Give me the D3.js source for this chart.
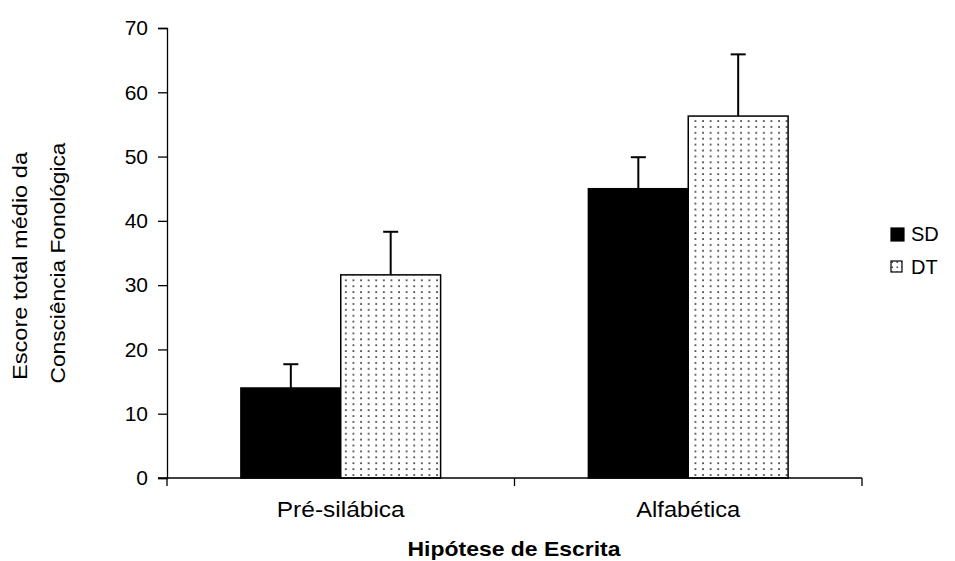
<!DOCTYPE html>
<html>
<head>
<meta charset="utf-8">
<script src="https://cdn.jsdelivr.net/npm/d3@7"></script>
<style>
  html, body { margin: 0; padding: 0; background: #fff; }
  svg { display: block; font-family: "Liberation Sans", Arial, sans-serif; }
</style>
</head>
<body>
<svg id="chart" width="955" height="561"></svg>
<script>
// Writing hypothesis categories and the two groups
const categories = ["Pré-silábica", "Alfabética"];
const seriesNames = ["SD", "DT"];
// Mean phonological awareness scores per group, by category
const sdMeans = [14.0, 45.0];
const dtMeans = [31.6, 56.3];
// Upper error bar ends (mean + SD)
const sdUpper = [17.7, 49.9];
const dtUpper = [38.3, 65.9];
const yTicks = [0, 10, 20, 30, 40, 50, 60, 70];

const svg = d3.select("#chart");
const plot = { left: 167, right: 862, top: 28, bottom: 478 };

const x = d3.scaleBand().domain(categories).range([plot.left, plot.right]).paddingInner(0).paddingOuter(0);
const inner = d3.scaleBand().domain(seriesNames).range([0, x.bandwidth()]).paddingInner(0).paddingOuter(0.74);
const y = d3.scaleLinear().domain([0, 70]).range([plot.bottom, plot.top]);

// Dotted fill for the DT bars
const defs = svg.append("defs");
const pat = defs.append("pattern").attr("id", "dots").attr("patternUnits", "userSpaceOnUse")
  .attr("width", 7.6).attr("height", 5.9);
pat.append("rect").attr("width", 7.6).attr("height", 5.9).attr("fill", "#fff");
pat.append("rect").attr("x", 3).attr("y", 2.2).attr("width", 1.7).attr("height", 1.7).attr("fill", "#3a3a3a");

const legPat = defs.append("pattern").attr("id", "dotsLegend").attr("patternUnits", "userSpaceOnUse")
  .attr("width", 5).attr("height", 5);
legPat.append("rect").attr("width", 5).attr("height", 5).attr("fill", "#fff");
legPat.append("rect").attr("x", 1.5).attr("y", 1.5).attr("width", 1.5).attr("height", 1.5).attr("fill", "#444");

const rows = categories.map((c, i) => [
  { cat: c, s: "SD", v: sdMeans[i], up: sdUpper[i] },
  { cat: c, s: "DT", v: dtMeans[i], up: dtUpper[i] }
]).flat();

const fillOf = s => s === "SD" ? "#000" : "url(#dots)";

// Error bars (drawn first so the bar covers the lower half)
const eb = svg.append("g").attr("stroke", "#000").attr("stroke-width", 2);
rows.forEach(d => {
  const cx = x(d.cat) + inner(d.s) + inner.bandwidth() / 2;
  eb.append("line").attr("x1", cx).attr("x2", cx).attr("y1", y(d.v)).attr("y2", y(d.up));
  eb.append("line").attr("x1", cx - 7.5).attr("x2", cx + 7.5).attr("y1", y(d.up)).attr("y2", y(d.up));
});

// Bars
svg.append("g").selectAll("rect").data(rows).join("rect")
  .attr("x", d => x(d.cat) + inner(d.s))
  .attr("y", d => y(d.v))
  .attr("width", inner.bandwidth())
  .attr("height", d => y(0) - y(d.v))
  .attr("fill", d => fillOf(d.s))
  .attr("stroke", "#000")
  .attr("stroke-width", 1.5);

// Y axis
const yAxis = d3.axisLeft(y).tickValues(yTicks).tickSize(9).tickPadding(10).tickFormat(d3.format("d"));
const gy = svg.append("g").attr("transform", `translate(${plot.left},0)`).call(yAxis);
gy.select(".domain").attr("stroke", "#000").attr("stroke-width", 1.3);
gy.selectAll(".tick line").attr("stroke", "#000").attr("stroke-width", 1.3);
gy.selectAll(".tick text").attr("font-size", 21).attr("fill", "#000").attr("font-family", "Liberation Sans, Arial, sans-serif");

// X axis: baseline with ticks between categories
const gx = svg.append("g");
gx.append("line").attr("x1", plot.left - 9).attr("x2", plot.right).attr("y1", plot.bottom).attr("y2", plot.bottom)
  .attr("stroke", "#000").attr("stroke-width", 1.5);
[plot.left, x(categories[1]), plot.right].forEach(px => {
  gx.append("line").attr("x1", px).attr("x2", px).attr("y1", plot.bottom).attr("y2", plot.bottom + 8)
    .attr("stroke", "#000").attr("stroke-width", 1.3);
});
gx.selectAll("text").data(categories).join("text")
  .attr("x", d => x(d) + x.bandwidth() / 2)
  .attr("y", 517)
  .attr("text-anchor", "middle")
  .attr("font-size", 22)
  .attr("textLength", d => d === categories[0] ? 128 : 104)
  .attr("lengthAdjust", "spacingAndGlyphs")
  .text(d => d);

// Axis titles
svg.append("text").attr("x", 514).attr("y", 556).attr("text-anchor", "middle")
  .attr("font-size", 21).attr("font-weight", "bold")
  .attr("textLength", 213).attr("lengthAdjust", "spacingAndGlyphs")
  .text("Hipótese de Escrita");

const yTitle = svg.append("g").attr("transform", "translate(0,266) rotate(-90)");
yTitle.append("text").attr("x", 0).attr("y", 27).attr("text-anchor", "middle")
  .attr("font-size", 21).attr("textLength", 228).attr("lengthAdjust", "spacingAndGlyphs")
  .text("Escore total médio da");
yTitle.append("text").attr("x", 3).attr("y", 65).attr("text-anchor", "middle")
  .attr("font-size", 21).attr("textLength", 241).attr("lengthAdjust", "spacingAndGlyphs")
  .text("Consciência Fonológica");

// Legend
const leg = svg.append("g");
seriesNames.forEach((s, i) => {
  const ly = 234 + i * 33;
  const sz = s === "SD" ? 13 : 11;
  leg.append("rect").attr("x", 891).attr("y", ly - 6).attr("width", sz).attr("height", sz)
    .attr("fill", s === "SD" ? "#000" : "url(#dotsLegend)").attr("stroke", "#000").attr("stroke-width", 1.2);
  leg.append("text").attr("x", 911).attr("y", ly + 7).attr("font-size", 20).text(s);
});
</script>
</body>
</html>
